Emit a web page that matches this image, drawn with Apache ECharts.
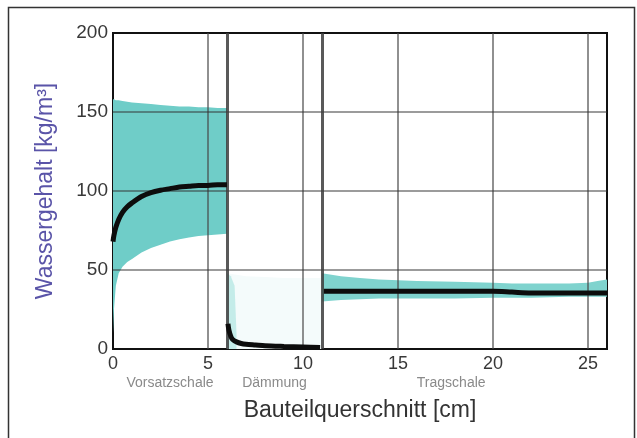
<!DOCTYPE html>
<html>
<head>
<meta charset="utf-8">
<script src="https://cdn.jsdelivr.net/npm/echarts@6/dist/echarts.min.js"></script>
<style>
  html, body { margin: 0; padding: 0; background: #fff; }
  #chart { width: 637px; height: 438px; }
</style>
</head>
<body>
<div id="chart"></div>
<script>
// Layer boundaries and tick values (cm / kg/m³)
const layerBounds = [6, 11];
const xGrid = [5, 10, 15, 20, 25];
const yGrid = [50, 100, 150];

// Layer names and where they sit along the cross-section (cm)
const layerNames = ['Vorsatzschale', 'Dämmung', 'Tragschale'];
const layerNamePos = [3.0, 8.5, 17.8];

// Vorsatzschale: mean water content and min/max envelope
const vorX     = [0, 0.05, 0.15, 0.3, 0.5, 0.75, 1, 1.5, 2, 2.5, 3, 3.5, 4, 4.5, 5, 5.5, 6];
const vorMean  = [68, 72, 77, 82, 86.5, 90, 92.5, 96.5, 99, 100.5, 101.5, 102.5, 103, 103.5, 103.5, 104, 104];
const vorUpper = [158, 158, 157.5, 157.5, 157, 156.5, 156, 155.5, 155, 154.5, 154, 153.5, 153.5, 153, 153, 152.5, 152.5];
const vorLower = [10, 25, 40, 48, 52, 55, 57, 61, 64, 66, 68, 69.5, 70.5, 71.5, 72, 72.5, 73];

// Dämmung
const damX     = [6.05, 6.1, 6.2, 6.3, 6.5, 6.75, 7, 7.5, 8, 9, 10, 10.9];
const damMean  = [16, 12, 8, 6, 4.5, 3.5, 3, 2.5, 2, 1.6, 1.3, 1];
const damEnvX     = [6, 6.5, 7, 8, 9, 10, 11];
const damEnvUpper = [48, 47, 46, 45.5, 45, 45, 45];
const damEnvLower = [0, 0, 0, 0, 0, 0, 0];
const damEdgeX     = [6, 6.2, 6.4, 6.5];
const damEdgeUpper = [48, 46, 40, 10];
const damEdgeLower = [0, 0, 0, 0];

// Tragschale
const traX     = [11, 11.5, 12, 13, 14, 15, 16, 18, 20, 21, 22, 24, 25, 25.5, 26];
const traMean  = [36.5, 36.5, 36.5, 36.5, 36.5, 36.5, 36.5, 36.5, 36.5, 36, 35.5, 35.5, 35.5, 35.5, 35.5];
const traUpper = [48, 47, 46, 45, 44, 43.5, 43, 42.5, 42, 41.5, 41.5, 41.5, 42, 43, 44];
const traLower = [30, 30.5, 31, 31.5, 32, 32, 32, 32, 32.5, 32.5, 32.5, 33, 33, 33, 33];

const traMeanX = traX.map((x, i) => (i === 0 ? 11.1 : x));

function band(xs, up, lo, fill, z) {
  return {
    type: 'custom', z: z, silent: true, clip: true,
    data: [[xs[0], up[0]]],
    renderItem: function (params, api) {
      const pts = [];
      for (let i = 0; i < xs.length; i++) pts.push(api.coord([xs[i], up[i]]));
      for (let i = xs.length - 1; i >= 0; i--) pts.push(api.coord([xs[i], lo[i]]));
      return { type: 'polygon', shape: { points: pts }, style: { fill: fill } };
    }
  };
}

function meanLine(xs, ys) {
  return {
    type: 'line', z: 6, smooth: 0.3, showSymbol: false, silent: true,
    lineStyle: { color: '#0d0d0d', width: 5 },
    data: xs.map((x, i) => [x, ys[i]])
  };
}

const chart = echarts.init(document.getElementById('chart'));
const grid = { left: 113, top: 33, right: 30, bottom: 89 };

const option = {
  animation: false,
  grid: Object.assign({ show: true, borderColor: '#111', borderWidth: 2, backgroundColor: '#fff' }, grid),
  xAxis: {
    type: 'value', min: 0, max: 26, interval: 5,
    name: 'Bauteilquerschnitt [cm]', nameLocation: 'middle', nameGap: 50,
    nameTextStyle: { color: '#333', fontSize: 23, fontFamily: 'Liberation Sans' },
    axisLine: { show: false }, axisTick: { show: false }, splitLine: { show: false },
    axisLabel: {
      color: '#383838', fontSize: 18, fontFamily: 'Liberation Sans', margin: 6,
      showMaxLabel: false,
      formatter: v => (v % 5 === 0 ? String(v) : '')
    }
  },
  yAxis: {
    type: 'value', min: 0, max: 200, interval: 50,
    name: 'Wassergehalt [kg/m³]', nameLocation: 'middle', nameGap: 56,
    nameTextStyle: { color: '#5a54a8', fontSize: 23, fontFamily: 'Liberation Sans' },
    axisLine: { show: false }, axisTick: { show: false }, splitLine: { show: false },
    axisLabel: { color: '#383838', fontSize: 19, fontFamily: 'Liberation Sans', margin: 5 }
  },
  series: [
    band(vorX, vorUpper, vorLower, '#6fcdc8', 2),
    band(damEnvX, damEnvUpper, damEnvLower, '#f4fbfb', 2),
    band(damEdgeX, damEdgeUpper, damEdgeLower, '#c4ece9', 2),
    band(traX, traUpper, traLower, '#7fd3ce', 2),
    {
      type: 'line', z: 4, silent: true, data: [],
      markLine: {
        silent: true, symbol: 'none', label: { show: false },
        data: [
          ...xGrid.map(v => ({ xAxis: v, lineStyle: { color: 'rgba(70,70,70,0.6)', width: 2, type: 'solid' } })),
          ...yGrid.map(v => ({ yAxis: v, lineStyle: { color: 'rgba(50,50,50,0.65)', width: 1.5, type: 'solid' } })),
          ...layerBounds.map(v => ({ xAxis: v, lineStyle: { color: 'rgba(60,60,60,0.85)', width: 3, type: 'solid' } }))
        ]
      }
    },
    meanLine(vorX, vorMean),
    meanLine(damX, damMean),
    meanLine(traMeanX, traMean)
  ]
};
chart.setOption(option);

// Layer names below the tick labels, placed at their cross-section positions
const baseY = chart.convertToPixel({ gridIndex: 0 }, [0, 0])[1];
chart.setOption({
  graphic: [
    {
      type: 'rect', silent: true, z: 0,
      shape: { x: 8.5, y: 7.5, width: 626, height: 440 },
      style: { fill: 'none', stroke: '#333', lineWidth: 1.5 }
    },
    ...layerNames.map((name, i) => ({
      type: 'text', silent: true,
      x: chart.convertToPixel({ gridIndex: 0 }, [layerNamePos[i], 0])[0],
      y: baseY + 34,
      style: { text: name, fill: '#8a8a8a', fontSize: 14, fontFamily: 'Liberation Sans', align: 'center', verticalAlign: 'middle' }
    }))
  ]
});
</script>
</body>
</html>
